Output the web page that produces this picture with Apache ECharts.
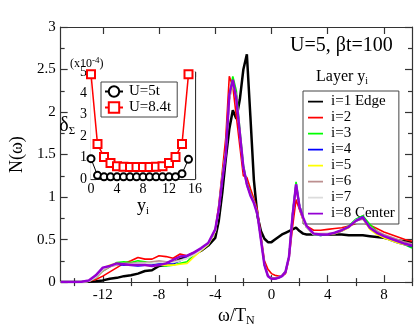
<!DOCTYPE html>
<html><head><meta charset="utf-8">
<script src="https://cdn.jsdelivr.net/npm/echarts@6/dist/echarts.min.js"></script>
<style>html,body{margin:0;padding:0;background:#fff}#c{width:415px;height:332px}</style>
</head><body><div id="c"></div>
<script>
// ---- data ----
const omega = [-15,-14,-13.5,-13,-12.5,-12,-11.5,-11,-10.5,-10,-9.5,-9,-8.5,-8,-7.5,-7,-6.5,-6,-5.5,-5,-4.5,-4,-3.75,-3.5,-3.25,-3,-2.75,-2.5,-2.25,-2,-1.75,-1.5,-1.25,-1,-0.75,-0.5,-0.25,0,0.25,0.5,0.75,1,1.25,1.5,1.75,2,2.25,2.5,3,3.5,4,4.5,5,5.5,6,6.5,7,7.5,8,8.5,9,9.5,10];
const layer1 = [0,0,0,0.005,0.01,0.02,0.04,0.05,0.07,0.08, 0.1,0.13,0.14,0.19,0.2,0.22,0.27,0.3,0.33,0.37, 0.43,0.52,0.72,1.05,1.45,1.8,2.02,1.92,2.15,2.5, 2.68,1.95,1.2,0.78,0.6,0.51,0.47,0.47,0.5,0.53, 0.56,0.58,0.6,0.62,0.64,0.6,0.57,0.56,0.56,0.56, 0.56,0.56,0.56,0.55,0.55,0.55,0.54,0.53,0.52,0.5, 0.49,0.48,0.47];
const layer2 = [0,0,0,0.01,0.03,0.07,0.12,0.17,0.22,0.25, 0.29,0.27,0.27,0.31,0.3,0.28,0.33,0.31,0.35,0.39, 0.45,0.62,0.9,1.3,1.7,2.42,2.3,1.95,1.6,1.25, 1.23,1.1,0.98,0.85,0.55,0.25,0.15,0.1,0.08,0.07, 0.07,0.1,0.28,0.65,0.97,0.85,0.73,0.66,0.61,0.61, 0.62,0.63,0.64,0.66,0.69,0.7,0.67,0.63,0.59,0.56, 0.53,0.5,0.48];
const layer3 = [0,0,0,0.01,0.05,0.13,0.18,0.23,0.24,0.23, 0.25,0.24,0.22,0.2,0.19,0.2,0.22,0.24,0.32,0.38, 0.44,0.6,0.85,1.25,1.55,2.2,2.42,2.25,1.8,1.38, 1.17,1.05,0.95,0.82,0.52,0.21,0.07,0.04,0.04,0.05, 0.07,0.12,0.3,0.8,1.18,0.9,0.75,0.65,0.56,0.55, 0.56,0.58,0.61,0.66,0.74,0.78,0.68,0.6,0.54,0.5, 0.47,0.44,0.4];
const layer4 = [0,0,0,0.01,0.06,0.15,0.19,0.21,0.2,0.2, 0.19,0.2,0.2,0.22,0.21,0.22,0.25,0.3,0.33,0.39, 0.45,0.6,0.84,1.22,1.52,2.15,2.35,2.2,1.75,1.35, 1.14,1.03,0.94,0.8,0.5,0.2,0.07,0.04,0.04,0.05, 0.07,0.12,0.3,0.8,1.15,0.9,0.74,0.64,0.56,0.55, 0.56,0.57,0.6,0.65,0.73,0.77,0.64,0.57,0.53,0.49, 0.46,0.44,0.42];
const layer5 = [0,0,0,0.01,0.06,0.16,0.2,0.22,0.21,0.2, 0.2,0.2,0.19,0.2,0.2,0.2,0.21,0.22,0.3,0.37, 0.44,0.59,0.84,1.22,1.52,2.15,2.33,2.2,1.75,1.35, 1.14,1.03,0.94,0.8,0.5,0.2,0.07,0.04,0.04,0.05, 0.07,0.12,0.3,0.78,1.12,0.88,0.73,0.64,0.56,0.56, 0.56,0.57,0.6,0.64,0.72,0.75,0.62,0.56,0.52,0.49, 0.46,0.44,0.43];
const layer6 = [0,0,0,0.01,0.05,0.13,0.18,0.2,0.22,0.22, 0.23,0.23,0.24,0.25,0.24,0.24,0.26,0.28,0.33,0.38, 0.45,0.6,0.85,1.24,1.55,2.2,2.36,2.15,1.75,1.35, 1.15,1.04,0.95,0.81,0.5,0.21,0.08,0.05,0.05,0.06, 0.08,0.13,0.3,0.78,1.12,0.88,0.74,0.65,0.57,0.57, 0.57,0.58,0.61,0.65,0.72,0.74,0.65,0.6,0.56,0.53, 0.5,0.47,0.45];
const layer7 = [0,0,0,0.01,0.06,0.15,0.19,0.21,0.21,0.21, 0.22,0.22,0.22,0.23,0.23,0.23,0.25,0.28,0.32,0.38, 0.45,0.6,0.85,1.22,1.52,2.15,2.36,2.17,1.73,1.35, 1.14,1.03,0.94,0.8,0.5,0.2,0.07,0.04,0.04,0.05, 0.07,0.12,0.3,0.8,1.15,0.9,0.74,0.64,0.56,0.56, 0.57,0.58,0.61,0.65,0.73,0.76,0.64,0.58,0.54,0.51, 0.48,0.45,0.44];
const layer8 = [0,0,0.005,0.02,0.08,0.17,0.19,0.22,0.21,0.2, 0.2,0.2,0.19,0.2,0.22,0.26,0.3,0.31,0.35,0.4, 0.46,0.62,0.85,1.2,1.5,2.2,2.38,2.15,1.75,1.35, 1.15,1.02,0.93,0.8,0.5,0.2,0.07,0.04,0.04,0.05, 0.07,0.12,0.3,0.78,1.15,0.88,0.76,0.66,0.57,0.56, 0.56,0.58,0.61,0.65,0.72,0.76,0.64,0.58,0.54,0.51, 0.48,0.45,0.43];
const layerNames = ['i=1 Edge','i=2','i=3','i=4','i=5','i=6','i=7','i=8 Center'];
const xMajorTicks = [-12,-8,-4,0,4,8];
const xMinorTicks = [-14,-10,-6,-2,2,6,10];
const yi = [0,1,2,3,4,5,6,7,8,9,10,11,12,13,14,15];
const deltaU5 = [0.95,0.17,0.1,0.1,0.1,0.1,0.1,0.1,0.1,0.1,0.1,0.1,0.1,0.11,0.25,0.92];
const deltaU84 = [4.9,1.63,1.03,0.75,0.6,0.57,0.56,0.56,0.56,0.56,0.57,0.6,0.75,1.03,1.63,4.9];
const insetNames = ['U=5t','U=8.4t'];

// ---- chart ----
const FONT = '"Liberation Serif", "Times New Roman", serif';
const AX = {color:'#333', width:1.2};
const layers = [layer1,layer2,layer3,layer4,layer5,layer6,layer7,layer8];
const colors = ['#000000','#ff0000','#00ff00','#0000ff','#ffff00','#bc8f8f','#dcdcdc','#9400d3'];
const widths = [2.5,1.6,1.6,1.6,1.6,1.6,1.6,2.5];
// legend icon: a thin horizontal bar centred in the icon box
const LINE_ICON = 'path://M0,0h0.01v0.01h-0.01zM0,6h20v2.2h-20zM20,13.99h0.01v0.01h-0.01z';

function mainX(pos, ticks, len, labels, extra) {
  return Object.assign({
    gridIndex:0, type:'value', min:-15, max:10, position:pos,
    axisLine:{show:true, onZero:false, lineStyle:AX},
    axisTick:{show:true, inside:true, length:len, customValues:ticks, lineStyle:AX},
    axisLabel:labels ? {customValues:ticks, fontFamily:FONT, fontSize:15, color:'#000', margin:5} : {show:false},
    splitLine:{show:false}
  }, extra || {});
}
function mainY(pos, labels, extra) {
  return Object.assign({
    gridIndex:0, type:'value', min:0, max:3, interval:0.5, position:pos,
    axisLine:{show:true, onZero:false, lineStyle:AX},
    axisTick:{show:true, inside:true, length:7, lineStyle:AX},
    minorTick:{show:true, splitNumber:2, length:4, lineStyle:AX},
    axisLabel:labels ? {fontFamily:FONT, fontSize:15, color:'#000', margin:5} : {show:false},
    splitLine:{show:false}
  }, extra || {});
}
function insetX(pos, labels, extra) {
  return Object.assign({
    gridIndex:1, type:'value', min:0, max:16, interval:4, position:pos,
    axisLine:{show:true, onZero:false, lineStyle:AX},
    axisTick:{show:true, inside:true, length:5, lineStyle:AX},
    minorTick:{show:true, splitNumber:4, length:3, lineStyle:AX},
    axisLabel:labels ? {fontFamily:FONT, fontSize:14, color:'#000', margin:3} : {show:false},
    splitLine:{show:false}
  }, extra || {});
}
function insetY(pos, labels, extra) {
  return Object.assign({
    gridIndex:1, type:'value', min:0, max:5, interval:1, position:pos,
    axisLine:{show:true, onZero:false, lineStyle:AX},
    axisTick:{show:true, inside:true, length:5, lineStyle:AX},
    minorTick:{show:true, splitNumber:2, length:3, lineStyle:AX},
    axisLabel:labels ? {fontFamily:FONT, fontSize:14, color:'#000', margin:4} : {show:false},
    splitLine:{show:false}
  }, extra || {});
}

const series = layers.map((arr, k) => ({
  name: layerNames[k], type:'line', xAxisIndex:0, yAxisIndex:0,
  data: omega.map((x, i) => [x, arr[i]]),
  showSymbol:false, symbol:'none',
  lineStyle:{color:colors[k], width:widths[k]}, itemStyle:{color:colors[k]},
  z: 2 + k
}));
series.push({
  name: insetNames[0], type:'line', xAxisIndex:4, yAxisIndex:2,
  data: yi.map((x, i) => [x, deltaU5[i]]),
  symbol:'emptyCircle', symbolSize:7,
  lineStyle:{color:'#000', width:1}, itemStyle:{color:'#000', borderColor:'#222', borderWidth:1}, z:20
});
series.push({
  name: insetNames[1], type:'line', xAxisIndex:4, yAxisIndex:2,
  data: yi.map((x, i) => [x, deltaU84[i]]),
  symbol:'emptyRect', symbolSize:8,
  lineStyle:{color:'#ff0000', width:1.5}, itemStyle:{color:'#ff0000', borderColor:'#ff5555', borderWidth:1}, z:21
});

const option = {
  animation:false,
  backgroundColor:'#fff',
  grid:[
    {left:43, top:27, right:3, bottom:45},
    {left:91, top:72, right:220, bottom:153, show:true, backgroundColor:'#fff', borderWidth:0, z:1}
  ],
  xAxis:[
    mainX('bottom', xMajorTicks, 7, true, {
      name:'ω/T{s|N}', nameLocation:'middle', nameGap:19,
      nameTextStyle:{fontFamily:FONT, fontSize:18, color:'#000', rich:{s:{fontFamily:FONT, fontSize:12, color:'#000', padding:[10,0,0,0]}}}
    }),
    mainX('bottom', xMinorTicks, 4, false, {axisLine:{show:false}}),
    mainX('top', xMajorTicks, 7, false),
    mainX('top', xMinorTicks, 4, false, {axisLine:{show:false}}),
    insetX('bottom', true, {
      name:'y{s|i}', nameLocation:'middle', nameGap:14,
      nameTextStyle:{fontFamily:FONT, fontSize:18, color:'#000', rich:{s:{fontFamily:FONT, fontSize:11, color:'#000', padding:[10,0,0,0]}}}
    }),
    insetX('top', false)
  ],
  yAxis:[
    mainY('left', true, {
      name:'N(ω)', nameLocation:'middle', nameGap:30,
      nameTextStyle:{fontFamily:FONT, fontSize:18, color:'#000'}
    }),
    mainY('right', false),
    insetY('left', true, {
      name:'δ{s|Σ}', nameLocation:'middle', nameRotate:0, nameGap:14,
      nameTextStyle:{fontFamily:FONT, fontSize:20, color:'#000', rich:{s:{fontFamily:FONT, fontSize:11, color:'#000', padding:[12,0,0,0]}}}
    }),
    insetY('right', false)
  ],
  legend:[
    {
      data:layerNames, orient:'vertical', left:303, top:91,
      padding:[3,4,3,5], itemWidth:15, itemHeight:14, itemGap:1,
      icon:LINE_ICON,
      borderColor:'#444', borderWidth:1, backgroundColor:'#fff',
      textStyle:{fontFamily:FONT, fontSize:15, color:'#000', lineHeight:14, padding:[0,0,0,3]}
    },
    {
      data:insetNames, orient:'vertical', left:101, top:82,
      padding:[2,6,2,3], itemWidth:18, itemHeight:13, itemGap:1,
      borderColor:'#444', borderWidth:1, backgroundColor:'#fff',
      textStyle:{fontFamily:FONT, fontSize:15, color:'#000', lineHeight:13, padding:[0,0,0,1]}
    }
  ],
  graphic:[
    {type:'text', left:290, top:36, style:{text:'U=5, βt=100', font:'20px "Liberation Serif"', fill:'#000'}},
    {type:'text', left:316, top:69, style:{text:'Layer y{s|i}', font:'16px "Liberation Serif"', fill:'#000',
      rich:{s:{font:'10px "Liberation Serif"', fill:'#000', padding:[9,0,0,0]}}}},
    {type:'text', left:70, top:56, style:{text:'(x10{s|-4})', font:'12px "Liberation Serif"', fill:'#000',
      rich:{s:{font:'9px "Liberation Serif"', fill:'#000', padding:[0,0,7,0]}}}}
  ],
  series:series
};
const chart = echarts.init(document.getElementById('c'), null, {renderer:'canvas'});
chart.setOption(option);
</script>
</body></html>
